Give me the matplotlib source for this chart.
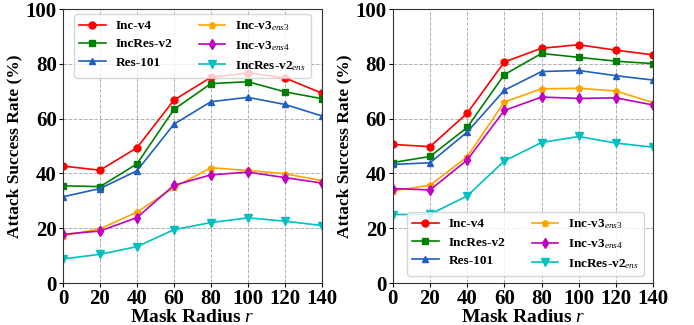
import matplotlib
matplotlib.use("Agg")
from matplotlib import pyplot as plt
import numpy as np

plt.rcParams['font.family'] = ['Liberation Serif', 'DejaVu Serif']
plt.rcParams['font.weight'] = 'bold'
plt.rcParams['mathtext.fontset'] = 'custom'
plt.rcParams['mathtext.rm'] = 'Liberation Serif:normal'
plt.rcParams['mathtext.it'] = 'Liberation Serif:italic:normal'
plt.rcParams['mathtext.bf'] = 'Liberation Serif:bold'

radius = [0, 20, 40, 60, 80, 100, 120, 140]
labels = ['Inc-v4', 'IncRes-v2', 'Res-101',
          r'Inc-v3$_{ens3}$', r'Inc-v3$_{ens4}$', r'IncRes-v2$_{ens}$']

# left panel
left_vals = [
    [42.7, 41.2, 49.4, 66.8, 75.1, 76.7, 74.9, 69.3],
    [35.5, 35.2, 43.5, 63.4, 72.8, 73.5, 69.8, 67.3],
    [31.5, 34.5, 41.0, 58.0, 66.2, 67.8, 65.2, 61.0],
    [17.3, 19.8, 25.9, 34.9, 42.1, 41.1, 39.9, 37.4],
    [17.8, 19.0, 23.9, 35.7, 39.5, 40.5, 38.5, 36.5],
    [8.8, 10.5, 13.3, 19.5, 22.1, 23.8, 22.6, 21.0],
]

# right panel
right_vals = [
    [50.6, 49.8, 62.0, 80.7, 85.7, 87.0, 85.0, 83.3],
    [44.0, 46.2, 56.8, 76.1, 83.8, 82.4, 81.0, 80.1],
    [43.3, 43.9, 55.1, 70.4, 77.2, 77.6, 75.7, 74.1],
    [33.7, 35.7, 46.1, 66.1, 70.9, 71.1, 70.1, 65.9],
    [34.5, 34.0, 44.9, 63.0, 67.9, 67.4, 67.6, 65.0],
    [25.0, 25.1, 31.8, 44.6, 51.3, 53.5, 51.1, 49.6],
]

colors = ['#ff0000', '#008000', '#1f5fc0', '#ffa500', '#c000c0', '#00c0c0']
markers = ['o', 's', '^', 'p', 'd', 'v']
msizes = [5, 5, 5, 5, 5, 5.5]

fig = plt.figure(figsize=(6.94, 3.25), dpi=100)
ax1 = fig.add_axes([0.0908, 0.129, 0.373, 0.843])
ax2 = fig.add_axes([0.566, 0.129, 0.375, 0.843])

for ax, vals in [(ax1, left_vals), (ax2, right_vals)]:
    for i in range(len(labels)):
        ax.plot(radius, vals[i], color=colors[i], marker=markers[i],
                markersize=msizes[i], linewidth=1.2, label=labels[i])
    ax.set_xlim(0, 140)
    ax.set_ylim(0, 100)
    ax.set_xticks(radius)
    ax.set_yticks([0, 20, 40, 60, 80, 100])
    ax.grid(True, linestyle='--', color='#b0b0b0', linewidth=0.7)
    ax.tick_params(labelsize=15, length=3, pad=1.5)
    for t in ax.get_xticklabels() + ax.get_yticklabels():
        t.set_fontweight('bold')
    ax.set_xlabel(r'Mask Radius $r$', fontsize=14, fontweight='bold', labelpad=0)
    ax.set_ylabel('Attack Success Rate (%)', fontsize=12.5, fontweight='bold', labelpad=2)
    for s in ax.spines.values():
        s.set_color('#333333')

leg_kw = dict(ncol=2, prop={'weight': 'bold', 'size': 9.5}, handlelength=2.0,
              handletextpad=0.75, columnspacing=2.0, labelspacing=0.45,
              borderaxespad=0, framealpha=0.8)
ax1.legend(loc='upper left', bbox_to_anchor=(0.042, 0.982), **leg_kw)
ax2.legend(loc='lower center', bbox_to_anchor=(0.51, 0.026), **leg_kw)

fig.savefig('out.png', dpi=100)
